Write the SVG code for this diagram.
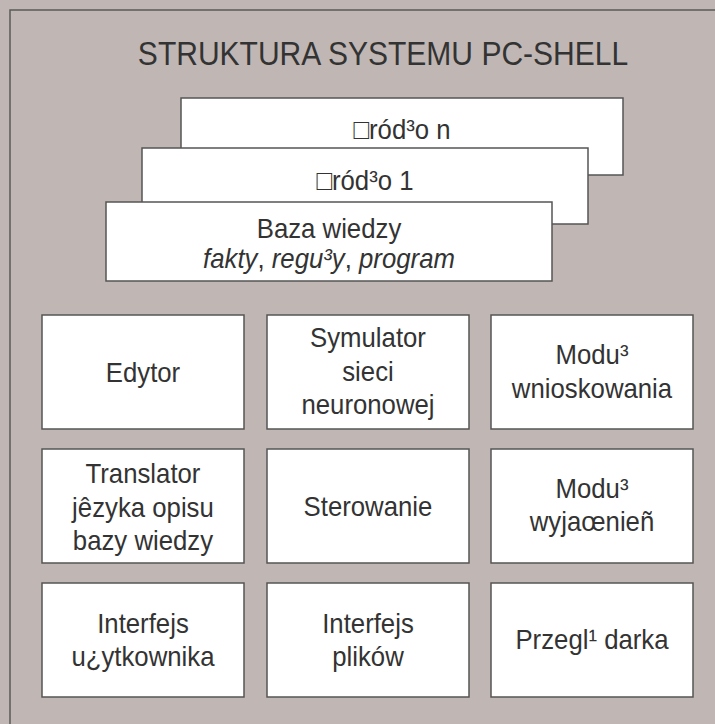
<svg xmlns="http://www.w3.org/2000/svg" width="715" height="724" viewBox="0 0 715 724">
<style>
.bg{fill:#c0b7b4;stroke:#5a5a5a;stroke-width:1.5}
.box{fill:#ffffff;stroke:#555555;stroke-width:1.5}
text{font-family:"Liberation Sans",Arial,sans-serif;fill:#333333;text-anchor:middle}
.t{font-size:28px}
.title{font-size:33px}
.i{font-style:italic}
</style>
<rect x="0" y="0" width="715" height="724" fill="#c0b7b4"/>
<rect class="bg" x="10" y="10" width="720" height="730"/>
<text class="title" transform="scale(0.91,1)" x="420.9" y="65">STRUKTURA SYSTEMU PC-SHELL</text>
<g id="zrodlo-n"><rect class="box" x="181" y="98" width="442" height="77"/><text class="t" transform="scale(0.92,1)" x="437" y="139">□ród³o n</text></g>
<g id="zrodlo-1"><rect class="box" x="142" y="148" width="446" height="76"/><text class="t" transform="scale(0.92,1)" x="396.7" y="190">□ród³o 1</text></g>
<g id="baza"><rect class="box" x="106" y="202" width="446" height="79"/><text class="t" transform="scale(0.92,1)" x="357.6" y="238">Baza wiedzy</text><text class="t" transform="scale(0.92,1)" x="357.6" y="268"><tspan class="i">fakty</tspan>, <tspan class="i">regu³y</tspan>, <tspan class="i">program</tspan></text></g>
<g id="edytor"><rect class="box" x="42" y="315" width="202" height="114"/><text class="t" transform="scale(0.92,1)" x="155.4" y="382">Edytor</text></g>
<g id="symulator"><rect class="box" x="267" y="315" width="202" height="114"/><text class="t" transform="scale(0.92,1)" x="400" y="347">Symulator</text><text class="t" transform="scale(0.92,1)" x="400" y="381">sieci</text><text class="t" transform="scale(0.92,1)" x="400" y="414">neuronowej</text></g>
<g id="wnioskowanie"><rect class="box" x="491" y="315" width="202" height="114"/><text class="t" transform="scale(0.92,1)" x="643.5" y="364">Modu³</text><text class="t" transform="scale(0.92,1)" x="643.5" y="398">wnioskowania</text></g>
<g id="translator"><rect class="box" x="42" y="449" width="202" height="114"/><text class="t" transform="scale(0.92,1)" x="155.4" y="483">Translator</text><text class="t" transform="scale(0.92,1)" x="155.4" y="517">jêzyka opisu</text><text class="t" transform="scale(0.92,1)" x="155.4" y="550">bazy wiedzy</text></g>
<g id="sterowanie"><rect class="box" x="267" y="449" width="202" height="114"/><text class="t" transform="scale(0.92,1)" x="400" y="516">Sterowanie</text></g>
<g id="wyjasnienia"><rect class="box" x="491" y="449" width="202" height="114"/><text class="t" transform="scale(0.92,1)" x="643.5" y="498">Modu³</text><text class="t" transform="scale(0.92,1)" x="643.5" y="531">wyjaœnieñ</text></g>
<g id="interfejs-u"><rect class="box" x="42" y="583" width="202" height="114"/><text class="t" transform="scale(0.92,1)" x="155.4" y="633">Interfejs</text><text class="t" transform="scale(0.92,1)" x="155.4" y="666">u¿ytkownika</text></g>
<g id="interfejs-p"><rect class="box" x="267" y="583" width="202" height="114"/><text class="t" transform="scale(0.92,1)" x="400" y="633">Interfejs</text><text class="t" transform="scale(0.92,1)" x="400" y="666">plików</text></g>
<g id="przegladarka"><rect class="box" x="491" y="583" width="202" height="114"/><text class="t" transform="scale(0.92,1)" x="643.5" y="649">Przegl¹ darka</text></g>
<g id="connectors"/>
</svg>
